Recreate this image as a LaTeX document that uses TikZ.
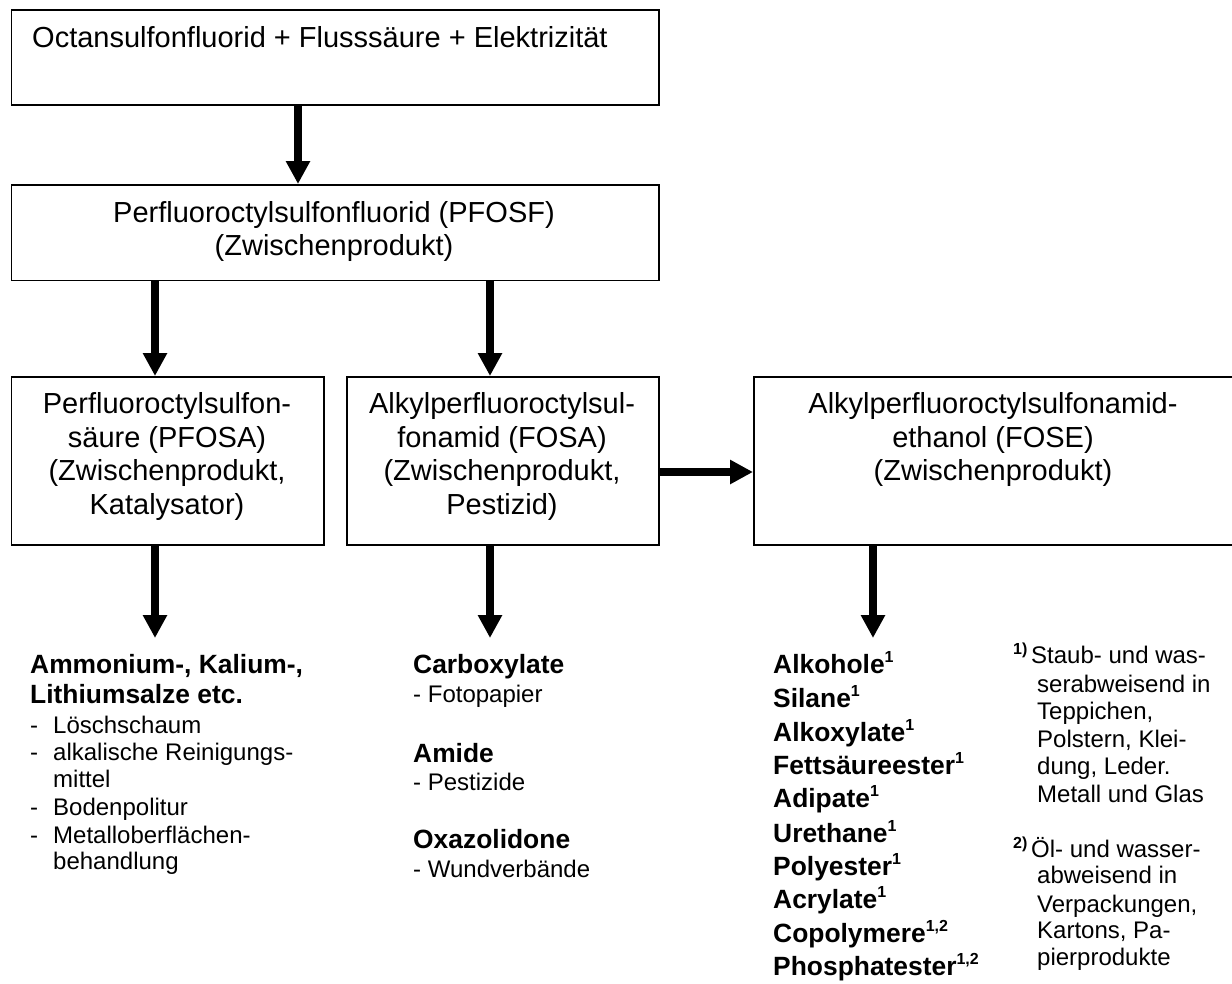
\documentclass[tikz,border=0pt]{standalone}
\usepackage{fontspec}
\setmainfont{Liberation Sans}
\usetikzlibrary{arrows.meta}
\tikzset{
 box/.style={draw=black, line width=1.8pt, inner sep=0pt, anchor=north west},
 arr/.style={draw=black, line width=8pt, -{Triangle[width=23pt,length=23pt]}},
 bt/.style={anchor=base, inner sep=0pt, font=\fontsize{29}{33}\selectfont},
 lt/.style={anchor=base west, inner sep=0pt, font=\fontsize{24}{27}\selectfont},
 bl/.style={anchor=base west, inner sep=0pt, font=\fontsize{26.4}{30}\selectfont\bfseries},
}
\newcommand{\sps}[1]{\raisebox{11pt}{\fontsize{16}{16}\selectfont\bfseries #1}}
\newcommand{\fnm}[1]{\raisebox{9pt}{\fontsize{16}{16}\selectfont\bfseries #1}}
\begin{document}
\begin{tikzpicture}[x=1pt,y=-1pt]
\useasboundingbox (0,0) rectangle (1232,983);
% boxes
\node[box, minimum width=647.5pt, minimum height=95pt] (top) at (10.5,9) {};
\node[box, minimum width=647.5pt, minimum height=95.5pt] (pfosf) at (10.5,184) {};
\node[box, minimum width=312.5pt, minimum height=168pt] (pfosa) at (10.5,376) {};
\node[box, minimum width=312pt, minimum height=168pt] (fosa) at (346,376) {};
\node[box, minimum width=481pt, minimum height=168pt] (fose) at (753,376) {};
% box texts
\node[bt, anchor=base west] (t1) at (32,47) {Octansulfonfluorid + Flusssäure + Elektrizität};
\node[bt] (p1) at (334,222) {Perfluoroctylsulfonfluorid (PFOSF)};
\node[bt] (p2) at (334,255) {(Zwischenprodukt)};
\node[bt] (a1) at (167,413) {Perfluoroctylsulfon-};
\node[bt] (a2) at (167,447) {säure (PFOSA)};
\node[bt] (a3) at (167,480) {(Zwischenprodukt,};
\node[bt] (a4) at (167,514) {Katalysator)};
\node[bt] (b1) at (502,413) {Alkylperfluoroctylsul-};
\node[bt] (b2) at (502,447) {fonamid (FOSA)};
\node[bt] (b3) at (502,480) {(Zwischenprodukt,};
\node[bt] (b4) at (502,514) {Pestizid)};
\node[bt] (c1) at (993,413) {Alkylperfluoroctylsulfonamid-};
\node[bt] (c2) at (993,447) {ethanol (FOSE)};
\node[bt] (c3) at (993,480) {(Zwischenprodukt)};
% arrow positions
\coordinate (xa) at (298,0);
\coordinate (xl) at (155,0);
\coordinate (xm) at (490,0);
\coordinate (xr) at (873,0);
\coordinate (yh) at (0,472);
\coordinate (e1) at (155,638);
\coordinate (e2) at (490,638);
\coordinate (e3) at (873,638);
% arrows
\draw[arr] (top.south -| xa) -- (pfosf.north -| xa);
\draw[arr] (pfosf.south -| xl) -- (pfosa.north -| xl);
\draw[arr] (pfosf.south -| xm) -- (fosa.north -| xm);
\draw[arr] (fosa.east |- yh) -- (fose.west |- yh);
\draw[arr] (pfosa.south -| xl) -- (e1);
\draw[arr] (fosa.south -| xm) -- (e2);
\draw[arr] (fose.south -| xr) -- (e3);
% column 1
\node[bl] (s1) at (30,673) {Ammonium-, Kalium-,};
\node[bl] (s2) at (30,703) {Lithiumsalze etc.};
\node[lt] (d1) at (30,733) {-};
\node[lt] (i1) at (53,733) {Löschschaum};
\node[lt] (d2) at (30,760) {-};
\node[lt] (i2) at (53,760) {alkalische Reinigungs-};
\node[lt] (i3) at (53,787) {mittel};
\node[lt] (d4) at (30,815) {-};
\node[lt] (i4) at (53,815) {Bodenpolitur};
\node[lt] (d5) at (30,843) {-};
\node[lt] (i5) at (53,843) {Metalloberflächen-};
\node[lt] (i6) at (53,869) {behandlung};
% column 2
\node[bl] (k1) at (413,673) {Carboxylate};
\node[lt] (k2) at (413,702) {- Fotopapier};
\node[bl] (k3) at (413,762) {Amide};
\node[lt] (k4) at (413,790) {- Pestizide};
\node[bl] (k5) at (413,848) {Oxazolidone};
\node[lt] (k6) at (413,877) {- Wundverbände};
% column 3
\node[bl] (m1) at (773,673) {Alkohole\sps{1}};
\node[bl] (m2) at (773,707) {Silane\sps{1}};
\node[bl] (m3) at (773,741) {Alkoxylate\sps{1}};
\node[bl] (m4) at (773,774) {Fettsäureester\sps{1}};
\node[bl] (m5) at (773,807) {Adipate\sps{1}};
\node[bl] (m6) at (773,842) {Urethane\sps{1}};
\node[bl] (m7) at (773,875) {Polyester\sps{1}};
\node[bl] (m8) at (773,908) {Acrylate\sps{1}};
\node[bl] (m9) at (773,942) {Copolymere\sps{1,2}};
\node[bl] (m10) at (773,975) {Phosphatester\sps{1,2}};
% column 4
\node[lt] (f1) at (1013,663) {\fnm{1)}};
\node[lt] (g1) at (1031,663) {Staub- und was-};
\node[lt] (g2) at (1037,692) {serabweisend in};
\node[lt] (g3) at (1037,719) {Teppichen,};
\node[lt] (g4) at (1037,747) {Polstern, Klei-};
\node[lt] (g5) at (1037,774) {dung, Leder.};
\node[lt] (g6) at (1037,802) {Metall und Glas};
\node[lt] (f2) at (1013,857) {\fnm{2)}};
\node[lt] (h1) at (1031,857) {Öl- und wasser-};
\node[lt] (h2) at (1037,883) {abweisend in};
\node[lt] (h3) at (1037,912) {Verpackungen,};
\node[lt] (h4) at (1037,938) {Kartons, Pa-};
\node[lt] (h5) at (1037,965) {pierprodukte};
\end{tikzpicture}
\end{document}
